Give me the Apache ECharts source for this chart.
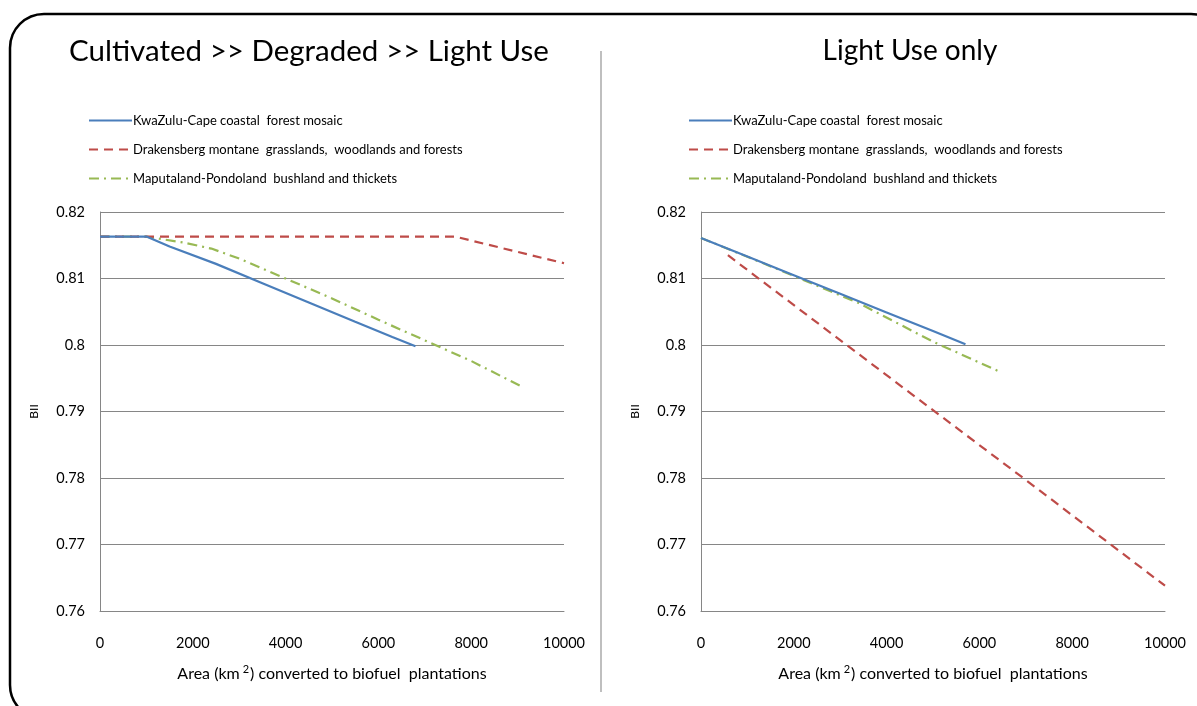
<!DOCTYPE html>
<html>
<head>
<meta charset="utf-8">
<script src="https://cdn.jsdelivr.net/npm/echarts@6/dist/echarts.min.js"></script>
<style>
  html, body { margin: 0; padding: 0; background: #fff; }
  #chart { width: 1197px; height: 706px; }
</style>
</head>
<body>
<div id="chart"></div>
<script>
// series names
const seriesNames = [
    "KwaZulu-Cape coastal  forest mosaic",
    "Drakensberg montane  grasslands,  woodlands and forests",
    "Maputaland-Pondoland  bushland and thickets"
];

// Left panel: Cultivated >> Degraded >> Light Use  ([area km2, BII])
const leftKwaZulu = [[0, 0.8163], [1000, 0.8163], [1500, 0.8148], [2500, 0.8122], [3500, 0.8093], [4500, 0.8064], [5500, 0.8035], [6300, 0.8012], [6800, 0.7998]];
const leftDrakensberg = [[0, 0.8163], [7650, 0.8163], [10000, 0.8123]];
const leftMaputaland = [[0, 0.8163], [1000, 0.8163], [1800, 0.8154], [2400, 0.8145], [3000, 0.8130], [4000, 0.8100], [5000, 0.8070], [6000, 0.8038], [7000, 0.8007], [8000, 0.7976], [9100, 0.7937]];

// Right panel: Light Use only
const rightKwaZulu = [[0, 0.8161], [1000, 0.8133], [2000, 0.8105], [3000, 0.8077], [4000, 0.8049], [5000, 0.8021], [5700, 0.8001]];
const rightDrakensberg = [[580, 0.8135], [3100, 0.8002], [5000, 0.7902], [7000, 0.7797], [10000, 0.7638]];
const rightMaputaland = [[0, 0.8161], [1270, 0.8125], [2130, 0.8100], [3400, 0.8063], [5000, 0.8005], [6400, 0.7961]];

// axis ticks
const yMin = 0.76, yMax = 0.82, yStep = 0.01;
const xMin = 0, xMax = 10000, xStep = 2000;

const colors = ["#4a7ebb", "#be4b48", "#98b954"];
const lineTypes = ["solid", [9, 6], [10, 5, 2, 5]];
const font = "Lato, 'Open Sans', sans-serif";

function makeSeries(dataList, gridIdx) {
    return dataList.map((d, i) => ({
        type: "line",
        name: seriesNames[i],
        xAxisIndex: gridIdx,
        yAxisIndex: gridIdx,
        symbol: "none",
        color: colors[i],
        lineStyle: { width: 2.2, type: lineTypes[i], color: colors[i] },
        z: 3 - i,
        data: d
    }));
}

function xAxisFor(idx) {
    return {
        gridIndex: idx,
        type: "value",
        min: xMin, max: xMax, interval: xStep,
        axisLine: { show: true, lineStyle: { color: "#868686", width: 1 } },
        axisTick: { show: false },
        splitLine: { show: false },
        axisLabel: { color: "#000", fontSize: 14.5, fontFamily: font, margin: 25, formatter: (v) => String(v) },
        name: "Area {n|(km}{sup|2}{n|)} converted to biofuel  plantations",
        nameLocation: "middle",
        nameGap: 53,
        nameTextStyle: {
            color: "#000", fontSize: 16, fontFamily: font,
            rich: {
                n: { fontSize: 16, fontFamily: font, color: "#000" },
                sup: { fontSize: 11, fontFamily: font, color: "#000", verticalAlign: "top", padding: [0, 1, 8, 3] }
            }
        }
    };
}

function yAxisFor(idx) {
    return {
        gridIndex: idx,
        type: "value",
        min: yMin, max: yMax, interval: yStep,
        axisLine: { show: true, lineStyle: { color: "#868686", width: 1 } },
        axisTick: { show: false },
        splitLine: { show: true, lineStyle: { color: "#868686", width: 1 } },
        axisLabel: {
            color: "#000", fontSize: 14.5, fontFamily: font, margin: 15,
            formatter: (v) => String(parseFloat(v.toFixed(2)))
        },
        name: "BII",
        nameLocation: "middle",
        nameGap: 60,
        nameRotate: 90,
        nameTextStyle: { color: "#000", fontSize: 12, fontFamily: font }
    };
}

function legendFor(left) {
    return {
        left: left,
        top: 114,
        padding: 0,
        orient: "vertical",
        itemWidth: 43,
        itemHeight: 14,
        itemGap: 16,
        selectedMode: false,
        itemStyle: { opacity: 0 },
        textStyle: { color: "#000", fontSize: 13, fontFamily: font, padding: [0, 0, 0, -4] },
        data: seriesNames
    };
}

const chart = echarts.init(document.getElementById("chart"));

chart.setOption({
    animation: false,
    backgroundColor: "#fff",
    title: [
        { text: "Cultivated >> Degraded >> Light Use", left: 304, top: 31, textAlign: "center",
          textStyle: { fontSize: 29.5, fontWeight: "normal", color: "#000", fontFamily: font } },
        { text: "Light Use only", left: 905, top: 32, textAlign: "center",
          textStyle: { fontSize: 28, fontWeight: "normal", color: "#000", fontFamily: font } }
    ],
    legend: [legendFor(88), legendFor(688)],
    grid: [
        { left: 100, top: 212, width: 464, height: 399 },
        { left: 701, top: 212, width: 464, height: 399 }
    ],
    xAxis: [xAxisFor(0), xAxisFor(1)],
    yAxis: [yAxisFor(0), yAxisFor(1)],
    graphic: [
        { type: "rect", shape: { x: 10, y: 14, width: 1215, height: 705, r: 34 },
          style: { fill: "none", stroke: "#000", lineWidth: 2.5 }, silent: true },
        { type: "line", shape: { x1: 601, y1: 51, x2: 601, y2: 692 },
          style: { stroke: "#bfbfbf", lineWidth: 2 }, silent: true }
    ],
    series: [
        ...makeSeries([leftKwaZulu, leftDrakensberg, leftMaputaland], 0),
        ...makeSeries([rightKwaZulu, rightDrakensberg, rightMaputaland], 1)
    ]
});
</script>
</body>
</html>
